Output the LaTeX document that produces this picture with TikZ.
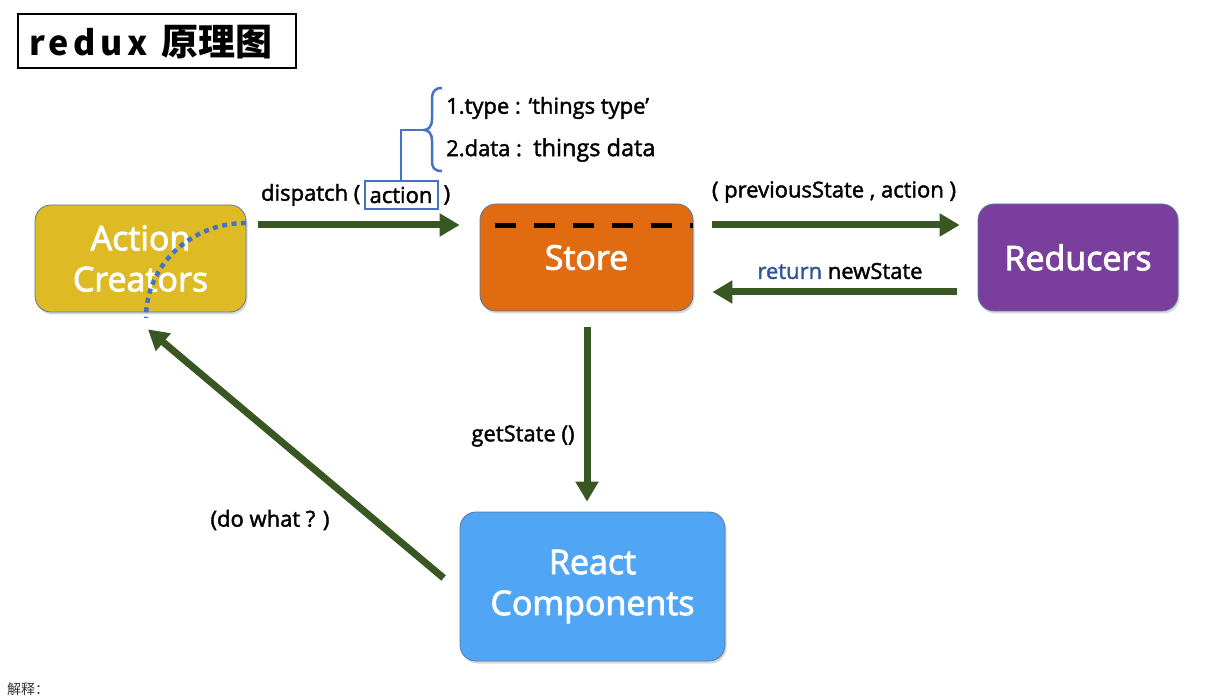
\documentclass[tikz,border=0pt]{standalone}
\usepackage{fontspec}
\setmainfont{Open Sans}
\newfontfamily\cjk{Noto Sans CJK SC}
\usetikzlibrary{arrows.meta,shadows,calc}
\definecolor{cgold}{RGB}{222,187,37}
\definecolor{corange}{RGB}{224,107,16}
\definecolor{cpurple}{RGB}{122,62,156}
\definecolor{cblue}{RGB}{80,165,245}
\definecolor{cgreen}{RGB}{56,87,35}
\definecolor{cline}{RGB}{68,114,196}
\definecolor{cret}{RGB}{47,85,151}
\definecolor{cborder}{RGB}{90,120,160}
\tikzset{
  box/.style={rounded corners=16pt, draw=cborder, line width=0.8pt, text=white,
    font=\fontsize{34}{41}\selectfont\addfontfeature{FakeBold=2.5}, align=center, inner sep=0pt,
    drop shadow={shadow xshift=1.5pt, shadow yshift=-2.5pt, opacity=0.3}},
  flow/.style={draw=cgreen, line width=7pt, -{Triangle[length=20pt,width=22pt]}},
  lbl/.style={font=\fontsize{22}{26}\selectfont\addfontfeature{FakeBold=1.8}, text=black, inner sep=0pt},
  bluel/.style={draw=cline, line width=2.5pt}
}
\begin{document}
\begin{tikzpicture}[x=1pt,y=-1pt]
\useasboundingbox[fill=white] (0,0) rectangle (1217,700);

% title
\draw[line width=2.5pt] (18,14) rectangle (296,68);
\node[font=\cjk\bfseries, inner sep=0pt, anchor=west] (title) at (29,42)
  {{\fontsize{34}{40}\selectfont\addfontfeature{LetterSpace=13}redux}\hspace{14pt}{\fontsize{37}{40}\selectfont 原理图}};

% boxes
\node[box, fill=cgold, minimum width=211pt, minimum height=107pt] (ac) at (140.5,258.5) {Action\\Creators};
\node[box, fill=corange, minimum width=213pt, minimum height=107pt] (store) at (586.5,257.5) {Store};
\node[box, fill=cpurple, minimum width=200pt, minimum height=107pt] (red) at (1078,257.5) {Reducers};
\node[box, fill=cblue, minimum width=265pt, minimum height=149pt] (react) at (592.5,586.5) {React\\Components};

% dashed line in store
\draw[black, line width=5pt, dash pattern=on 21pt off 18pt]
  ($(store.north west)+(15,22)$) -- ($(store.north east)+(0,22)$);

% dotted curve
\draw[cline, line width=4.5pt, dash pattern=on 5pt off 4.5pt]
  (246,223) .. controls (191,223) and (146,265) .. (146,318);

% arrows
\coordinate (d1) at ($(ac.east)+(12,-33.5)$);
\coordinate (d2) at ($(store.west)+(-20,-32.5)$);
\draw[flow] (d1) -- (d2);
\coordinate (p1) at ($(store.east)+(19,-32.5)$);
\coordinate (p2) at ($(red.west)+(-18,-32.5)$);
\draw[flow] (p1) -- (p2);
\coordinate (r1) at ($(red.west)+(-21,34.5)$);
\coordinate (r2) at ($(store.east)+(19,34.5)$);
\draw[flow] (r1) -- (r2);
\coordinate (g1) at ($(store.south)+(0.5,16)$);
\coordinate (g2) at ($(store.south |- react.north)+(0.5,-10)$);
\draw[flow] (g1) -- (g2);
\coordinate (w1) at ($(react.west)+(-16,-8.5)$);
\coordinate (w2) at ($(ac.south)+(7.5,17)$);
\draw[flow] (w1) -- (w2);

% labels
\node[lbl, draw=cline, line width=2pt, minimum width=73pt, minimum height=28pt] (act) at (401,195) {action};
\node[lbl, anchor=east] (disp) at ($(act.west)+(-3,0)$) {dispatch (};
\node[lbl, anchor=west] (dispc) at ($(act.east)+(5,0)$) {)};
\node[lbl] (prev) at (834,192) {( previousState , action )};
\node[lbl] (ret) at (840,271) {\textcolor{cret}{return} newState};
\node[lbl] (gs) at (523,436) {getState ()};
\node[lbl] (dw) at (270,520) {(do what ? )};

% brace
\coordinate (tip) at (424,130);
\draw[bluel] (act.north) |- (tip);
\draw[bluel] (442,88) .. controls (434,88) and (432,92) .. (432,100) -- (432,119)
  .. controls (432,127) and (428,130) .. (tip)
  .. controls (428,130) and (432,133) .. (432,141) -- (432,160)
  .. controls (432,168) and (434,171) .. (442,171);
\node[lbl, anchor=west] (t1) at (446,108) {1.type : ‘things type’};
\node[lbl, anchor=west] (t2) at (446,150) {2.data :\ \ {\fontsize{23.5}{26}\selectfont things data}};

% footer
\node[font=\fontsize{14}{16}\selectfont\cjk, text=black!80, anchor=north west, inner sep=0pt] (foot) at (7,683) {解释：};
\end{tikzpicture}
\end{document}
